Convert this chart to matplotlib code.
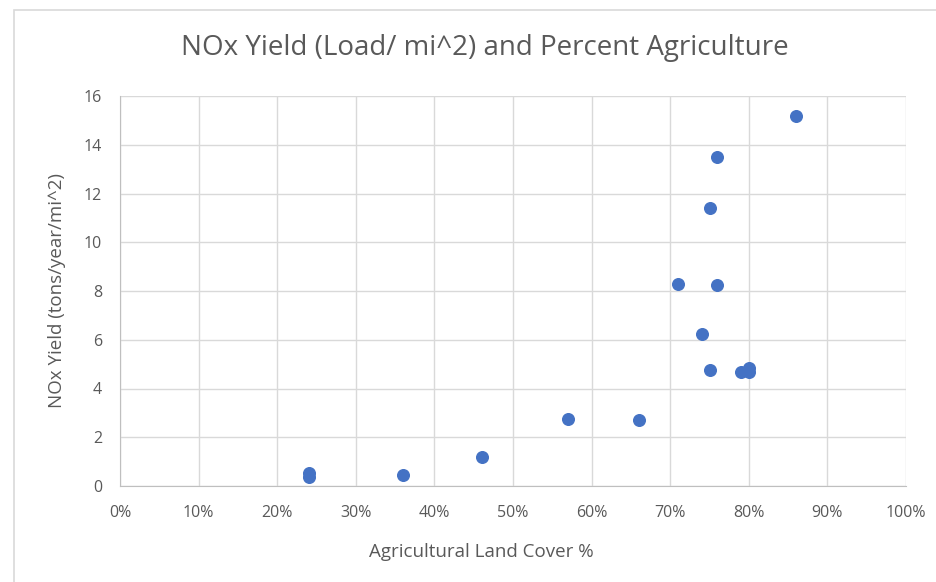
import matplotlib.pyplot as plt
from matplotlib.patches import Rectangle
from matplotlib.ticker import PercentFormatter

# Datos
ag_cover = [24, 24, 36, 46, 57, 66, 71, 76, 75, 76, 74, 75, 79, 80, 80, 86]
nox_yield = [0.53, 0.37, 0.45, 1.19, 2.75, 2.70, 8.28, 13.48, 11.39, 8.24,
             6.23, 4.75, 4.67, 4.84, 4.67, 15.20]

x_ticks = list(range(0, 101, 10))
y_ticks = list(range(0, 17, 2))

plt.rcParams['font.family'] = ['Open Sans', 'DejaVu Sans']
text_color = '#595959'

fig = plt.figure(figsize=(9.36, 5.82), dpi=100)
fig.patches.append(Rectangle((14 / 936, -0.1), 1.2, 1 - 10 / 582 + 0.1,
                             transform=fig.transFigure, fill=False,
                             edgecolor='#d9d9d9', linewidth=1.2))

ax = fig.add_axes([120 / 936, 1 - 486 / 582, 786 / 936, 390 / 582])
ax.scatter(ag_cover, nox_yield, s=70, color='#4472C4', zorder=3)

ax.set_xlim(0, 100)
ax.set_ylim(0, 16)
ax.set_xticks(x_ticks)
ax.set_yticks(y_ticks)
ax.xaxis.set_major_formatter(PercentFormatter(decimals=0))
ax.grid(True, color='#d9d9d9', linewidth=1)
ax.set_axisbelow(True)
for side in ['top', 'right']:
    ax.spines[side].set_visible(False)
for side in ['left', 'bottom']:
    ax.spines[side].set_color('#bfbfbf')
ax.tick_params(length=0, labelsize=11.5, colors=text_color)
ax.tick_params(axis='x', pad=14)
ax.tick_params(axis='y', pad=13)

# Etiquetas de ejes y titulo
fig.text(481 / 936, 1 - 552 / 582, 'Agricultural Land Cover %',
         ha='center', va='center', fontsize=13.5, color=text_color)
fig.text(57 / 936, 1 - 291 / 582, 'NOx Yield (tons/year/mi^2)',
         ha='center', va='center', rotation=90, fontsize=13.5, color=text_color)
fig.text(485 / 936, 1 - 48 / 582, 'NOx Yield (Load/ mi^2) and Percent Agriculture',
         ha='center', va='center', fontsize=20, color=text_color)

fig.savefig('out.png', dpi=100)
